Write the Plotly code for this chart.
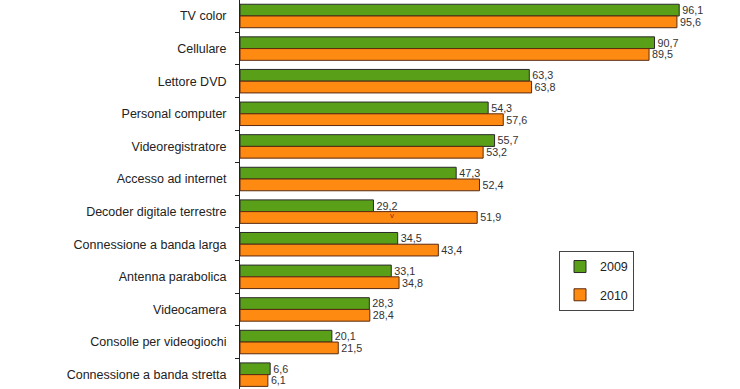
import plotly.graph_objects as go

categories = ["TV color", "Cellulare", "Lettore DVD", "Personal computer",
              "Videoregistratore", "Accesso ad internet", "Decoder digitale terrestre",
              "Connessione a banda larga", "Antenna parabolica", "Videocamera",
              "Consolle per videogiochi", "Connessione a banda stretta"]
values_2009 = [96.1, 90.7, 63.3, 54.3, 55.7, 47.3, 29.2, 34.5, 33.1, 28.3, 20.1, 6.6]
values_2010 = [95.6, 89.5, 63.8, 57.6, 53.2, 52.4, 51.9, 43.4, 34.8, 28.4, 21.5, 6.1]
series_names = ["2009", "2010"]

def fmt(v):
    return f"{v:.1f}".replace(".", ",")

FONT = "Liberation Sans, Arial, sans-serif"

fig = go.Figure()
fig.add_trace(go.Bar(
    y=categories, x=values_2009, orientation="h", name=series_names[0],
    marker=dict(color="#5a9f18", line=dict(color="#2a2a2a", width=1)),
    text=[fmt(v) for v in values_2009], textposition="outside",
    textfont=dict(family=FONT, size=11, color="#333333"),
    cliponaxis=False, legendgroup="a",
))
fig.add_trace(go.Bar(
    y=categories, x=values_2010, orientation="h", name=series_names[1],
    marker=dict(color="#ff8a12", line=dict(color="#5a2a10", width=1)),
    text=[fmt(v) for v in values_2010], textposition="outside",
    textfont=dict(family=FONT, size=11, color="#333333"),
    cliponaxis=False, legendgroup="b",
))

fig.add_annotation(x=33.3, y=6.12, xref="x", yref="y", text="v", showarrow=False,
                   font=dict(family=FONT, size=8, color="#8a2a00"))

fig.update_layout(
    width=740, height=389,
    margin=dict(l=240, r=0, t=0, b=0),
    paper_bgcolor="white", plot_bgcolor="white",
    barmode="group", bargap=0.28, bargroupgap=0.0,
    font=dict(family=FONT, size=11, color="#222222"),
    hovermode=False,
    legend=dict(
        x=0.638, y=0.355, xanchor="left", yanchor="top",
        bordercolor="#444444", borderwidth=1, bgcolor="white",
        traceorder="grouped", tracegroupgap=9, itemwidth=30,
        font=dict(family=FONT, size=12.5, color="#222222"),
    ),
    xaxis=dict(range=[0, 109.4], visible=False, fixedrange=True),
    yaxis=dict(
        type="category", categoryorder="array", categoryarray=categories,
        range=[11.44, -0.49], showline=True, linecolor="#222222", linewidth=1,
        ticks="outside", ticklen=4, tickcolor="#222222", tickson="boundaries",
        ticklabelstandoff=10, fixedrange=True,
        showgrid=False, zeroline=False,
        tickfont=dict(family=FONT, size=12.5, color="#222222"),
    ),
)

fig.write_html(
    "out.html",
    config={"displayModeBar": False, "staticPlot": True},
    post_script="document.body.style.margin='0';document.body.style.overflow='hidden';",
)
